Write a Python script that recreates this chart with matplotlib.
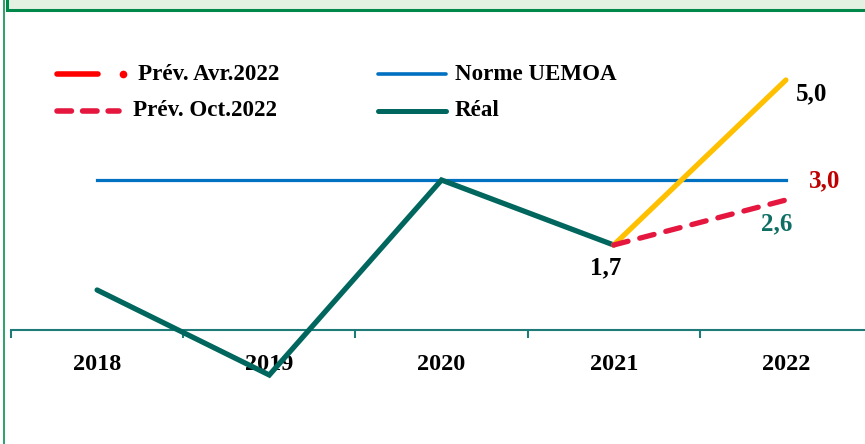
import matplotlib.pyplot as plt
from matplotlib.lines import Line2D
from matplotlib.patches import Rectangle

plt.rcParams['font.family'] = ['Liberation Serif', 'DejaVu Serif']
plt.rcParams['font.weight'] = 'bold'

# données (solde en % du PIB)
annees = ['2018', '2019', '2020', '2021', '2022']
reel = [0.8, -0.9, 3.0, 1.7]
norme_uemoa = [3.0, 3.0, 3.0, 3.0, 3.0]
prev_avr = [1.7, 5.0]
prev_oct = [1.7, 2.6]

teal = '#00665E'
bleu = '#0070C0'
jaune = '#FFC000'
rouge_pointille = '#E5173F'
vert_cadre = '#00884A'

fig = plt.figure(figsize=(8.65, 4.44), dpi=100)

# cadre vert + bandeau du haut
fig.add_artist(Line2D([4.0 / 865, 4.0 / 865], [0, 1], color='#1E9A5E', lw=1.3))
fig.add_artist(Rectangle((6.5 / 865, 1 - 10.5 / 444), 1.0, 0.1, facecolor='#E3F1E3',
                         edgecolor=vert_cadre, lw=2.2))

ax = fig.add_axes([11 / 865, 14 / 444, 861 / 865, 400 / 444])
x = list(range(len(annees)))

ax.plot(x, norme_uemoa, color=bleu, lw=2.3, zorder=2)
ax.plot(x[:4], reel, color=teal, lw=3.8, solid_capstyle='round', solid_joinstyle='miter', zorder=3)
ax.plot(x[3:], prev_avr, color=jaune, lw=3.8, solid_capstyle='round', zorder=4)
ax.plot(x[3:], prev_oct, color=rouge_pointille, lw=3.8, linestyle=(0, (2.8, 2.3)),
        dash_capstyle='round', zorder=5)

ax.set_xlim(-0.5, 4.5)
ax.set_ylim(-2, 6)
for s in ['top', 'right', 'left']:
    ax.spines[s].set_visible(False)
ax.spines['bottom'].set_position(('data', 0))
ax.spines['bottom'].set_color('#1F7B78')
ax.spines['bottom'].set_linewidth(1.5)
ax.set_yticks([])
ax.set_xticks(x)
ax.set_xticklabels(annees, fontsize=17.5, fontweight='bold')
ax.tick_params(axis='x', which='major', length=0, pad=17)
ax.set_xticks([i - 0.5 for i in range(len(annees) + 1)], minor=True)
ax.tick_params(axis='x', which='minor', length=6, width=1.5, color='#1F7B78', direction='out')

# étiquettes de valeurs
ax.annotate('5,0', (4, prev_avr[1]), xytext=(26, -14), textcoords='offset pixels',
            ha='center', va='center', fontsize=18, fontweight='bold', color='black')
ax.annotate('3,0', (4, norme_uemoa[4]), xytext=(39, -1), textcoords='offset pixels',
            ha='center', va='center', fontsize=18, fontweight='bold', color='#C00000')
ax.annotate('2,6', (4, prev_oct[1]), xytext=(-9, -24), textcoords='offset pixels',
            ha='center', va='center', fontsize=18, fontweight='bold', color='#0E6E64')
ax.annotate('1,7', (3, reel[3]), xytext=(-8, -23), textcoords='offset pixels',
            ha='center', va='center', fontsize=18, fontweight='bold', color='black')

# légende dessinée à la main
def fx(px):
    return px / 865

def fy(py):
    return 1 - py / 444

fig.add_artist(Line2D([fx(57), fx(98)], [fy(74), fy(74)], color='#FF0000', lw=4, solid_capstyle='round'))
fig.add_artist(Line2D([fx(123)], [fy(74)], marker='o', markersize=4.5, color='#FF0000', lw=0))
fig.text(fx(138), fy(74), 'Prév. Avr.2022', fontsize=16.6, fontweight='bold', va='center')

fig.add_artist(Line2D([fx(57), fx(119)], [fy(111), fy(111)], color=rouge_pointille, lw=4,
                      linestyle=(0, (2.6, 2.0)), dash_capstyle='round'))
fig.text(fx(133), fy(111), 'Prév. Oct.2022', fontsize=16.6, fontweight='bold', va='center')

fig.add_artist(Line2D([fx(378), fx(446)], [fy(74), fy(74)], color=bleu, lw=2.6, solid_capstyle='round'))
fig.text(fx(455), fy(74), 'Norme UEMOA', fontsize=16.6, fontweight='bold', va='center')

fig.add_artist(Line2D([fx(378), fx(446)], [fy(111), fy(111)], color=teal, lw=3.6, solid_capstyle='round'))
fig.text(fx(455), fy(111), 'Réal', fontsize=16.6, fontweight='bold', va='center')

fig.savefig('out.png', dpi=100)
